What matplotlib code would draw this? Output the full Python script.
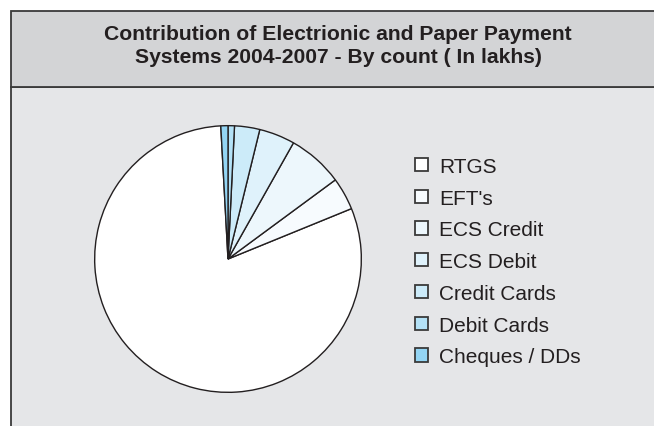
import matplotlib
matplotlib.use("Agg")
import matplotlib.pyplot as plt
from matplotlib.patches import Rectangle

plt.rcParams['font.family'] = ['Liberation Sans', 'DejaVu Sans']

title_lines = ["Contribution of Electrionic and Paper Payment",
               "Systems 2004-2007 - By count ( In lakhs)"]
categories = ["RTGS", "EFT's", "ECS Credit", "ECS Debit",
              "Credit Cards", "Debit Cards", "Cheques / DDs"]
values = [289.1, 14.2, 24.2, 15.6, 11.0, 2.8, 3.1]
colors = ["#FFFFFF", "#F7FBFE", "#EDF7FC", "#DFF2FB",
          "#CCEBF9", "#B3E1F6", "#93D5F4"]

W, H = 654, 427
fig = plt.figure(figsize=(W / 100, H / 100), dpi=100)
fig.patch.set_facecolor("white")

def fx(x):
    return x / W

def fy(y):
    return 1 - y / H

# frame: plot area and title band
fig.patches.append(Rectangle((fx(11), fy(440)), fx(700), fy(88) - fy(440),
                             transform=fig.transFigure, facecolor="#E5E6E8",
                             edgecolor="#3A3A3A", linewidth=1.3, zorder=-2))
fig.patches.append(Rectangle((fx(11), fy(88)), fx(700), fy(11.7) - fy(88),
                             transform=fig.transFigure, facecolor="#D3D4D6",
                             edgecolor="#3A3A3A", linewidth=1.3, zorder=-2))

fig.text(fx(338), fy(40), title_lines[0], ha="center", va="baseline",
         fontsize=15.2, fontweight="bold", color="#231F20")
fig.text(fx(338), fy(63.4), title_lines[1], ha="center", va="baseline",
         fontsize=15.2, fontweight="bold", color="#231F20")

# pie
cx, cy, r = 228, 260, 134
ax = fig.add_axes([fx(cx - r), fy(cy + r), (2 * r) / W, (2 * r) / H])
ax.set_zorder(1)
wedges, _ = ax.pie(values, colors=colors, startangle=93.1, counterclock=True,
                   radius=1.0,
                   wedgeprops=dict(edgecolor="#231F20", linewidth=1.0))
ax.set_xlim(-1.005, 1.005)
ax.set_ylim(-1.005, 1.005)
ax.set_aspect("auto")
ax.axis("off")

leg = fig.legend(wedges, categories, loc="upper left",
                 bbox_to_anchor=(fx(415), fy(158)),
                 frameon=False, fontsize=15, borderpad=0, borderaxespad=0,
                 handlelength=0.6, handleheight=0.6, handletextpad=0.55,
                 labelspacing=0.61)
for t in leg.get_texts():
    t.set_color("#231F20")
for h in leg.legend_handles:
    h.set_edgecolor("#3A3A3A")
    h.set_linewidth(1.3)

fig.savefig("out.png", dpi=100)
